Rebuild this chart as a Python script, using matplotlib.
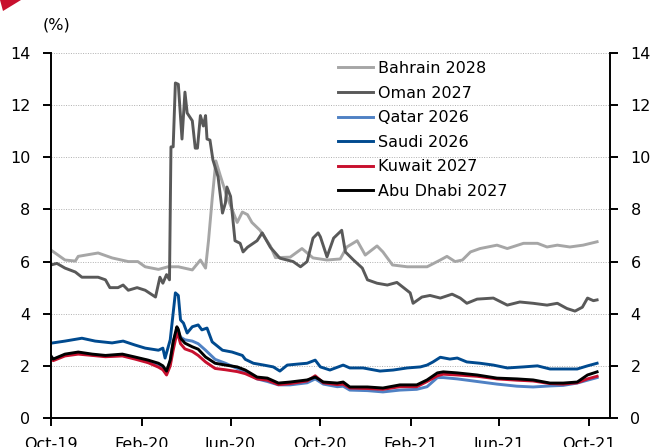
"""GCC sovereign bond yields, Oct-2019 to Oct-2021 (%)."""
import matplotlib
matplotlib.use("Agg")
import matplotlib.pyplot as plt
import matplotlib.dates as mdates
from matplotlib.patches import Polygon
import pandas as pd

bahrain_dates = [
    "2019-10-01", "2019-10-20", "2019-11-03", "2019-11-07", "2019-12-04",
    "2019-12-23", "2020-01-14", "2020-01-27", "2020-02-06", "2020-02-24",
    "2020-03-08", "2020-03-22", "2020-04-10", "2020-04-21", "2020-04-28",
    "2020-05-02", "2020-05-07", "2020-05-12", "2020-05-18", "2020-05-27",
    "2020-06-10", "2020-06-17", "2020-06-24", "2020-06-30", "2020-07-11",
    "2020-07-25", "2020-08-01", "2020-08-21", "2020-09-06", "2020-09-21",
    "2020-10-10", "2020-10-28", "2020-11-06", "2020-11-20", "2020-12-01",
    "2020-12-17", "2020-12-25", "2021-01-07", "2021-01-27", "2021-02-23",
    "2021-03-13", "2021-03-22", "2021-04-02", "2021-04-12", "2021-04-23",
    "2021-05-06", "2021-05-29", "2021-06-12", "2021-07-04", "2021-07-23",
    "2021-08-05", "2021-08-19", "2021-09-05", "2021-09-23", "2021-10-12",
]
bahrain_2028 = [
    6.44, 6.06, 6.02, 6.20, 6.33, 6.14, 6.00, 6.00, 5.80, 5.70,
    5.80, 5.80, 5.68, 6.06, 5.75, 6.80, 8.40, 9.86, 9.30, 8.50,
    7.50, 7.90, 7.80, 7.50, 7.20, 6.60, 6.15, 6.17, 6.50, 6.14,
    6.06, 6.10, 6.56, 6.80, 6.25, 6.60, 6.37, 5.87, 5.80, 5.80,
    6.06, 6.20, 6.00, 6.06, 6.37, 6.50, 6.63, 6.50, 6.70, 6.70,
    6.56, 6.63, 6.56, 6.63, 6.76,
]

oman_dates = [
    "2019-10-01", "2019-10-09", "2019-10-20", "2019-11-03", "2019-11-12",
    "2019-12-04", "2019-12-14", "2019-12-20", "2019-12-31", "2020-01-07",
    "2020-01-14", "2020-01-26", "2020-02-06", "2020-02-20", "2020-02-26",
    "2020-03-01", "2020-03-06", "2020-03-10", "2020-03-12", "2020-03-15",
    "2020-03-18", "2020-03-22", "2020-03-27", "2020-03-31", "2020-04-03",
    "2020-04-10", "2020-04-14", "2020-04-17", "2020-04-21", "2020-04-25",
    "2020-04-28", "2020-04-30", "2020-05-04", "2020-05-08", "2020-05-15",
    "2020-05-21", "2020-05-25", "2020-05-27", "2020-06-01", "2020-06-07",
    "2020-06-14", "2020-06-18", "2020-06-24", "2020-07-07", "2020-07-14",
    "2020-07-25", "2020-08-07", "2020-08-25", "2020-09-04", "2020-09-13",
    "2020-09-21", "2020-09-28", "2020-10-01", "2020-10-10", "2020-10-19",
    "2020-10-30", "2020-11-04", "2020-11-15", "2020-11-27", "2020-12-04",
    "2020-12-17", "2020-12-31", "2021-01-13", "2021-01-22", "2021-01-31",
    "2021-02-04", "2021-02-16", "2021-02-27", "2021-03-13", "2021-03-29",
    "2021-04-09", "2021-04-18", "2021-05-02", "2021-05-24", "2021-06-12",
    "2021-06-29", "2021-07-17", "2021-08-05", "2021-08-19", "2021-09-01",
    "2021-09-12", "2021-09-22", "2021-09-29", "2021-10-07", "2021-10-12",
]
oman_2027 = [
    5.87, 5.93, 5.75, 5.60, 5.40, 5.40, 5.30, 5.00, 5.00, 5.10,
    4.90, 5.00, 4.90, 4.64, 5.40, 5.17, 5.50, 5.30, 10.40, 10.40,
    12.85, 12.80, 10.70, 12.50, 11.70, 11.40, 10.35, 10.35, 11.60, 11.20,
    11.60, 10.70, 10.66, 9.90, 9.25, 7.86, 8.25, 8.86, 8.50, 6.80,
    6.70, 6.37, 6.55, 6.80, 7.10, 6.55, 6.13, 6.00, 5.80, 6.00,
    6.90, 7.10, 6.95, 6.18, 6.90, 7.20, 6.37, 6.06, 5.75, 5.30,
    5.17, 5.10, 5.20, 5.00, 4.80, 4.40, 4.64, 4.70, 4.60, 4.75,
    4.60, 4.40, 4.56, 4.60, 4.33, 4.45, 4.40, 4.33, 4.40, 4.20,
    4.10, 4.25, 4.60, 4.50, 4.53,
]

saudi_dates = [
    "2019-10-01", "2019-10-20", "2019-11-12", "2019-11-30", "2019-12-23",
    "2020-01-07", "2020-01-23", "2020-02-06", "2020-02-24", "2020-03-01",
    "2020-03-04", "2020-03-11", "2020-03-18", "2020-03-22", "2020-03-25",
    "2020-03-29", "2020-04-03", "2020-04-10", "2020-04-18", "2020-04-23",
    "2020-04-30", "2020-05-07", "2020-05-21", "2020-06-03", "2020-06-17",
    "2020-06-21", "2020-07-02", "2020-07-16", "2020-07-29", "2020-08-07",
    "2020-08-17", "2020-09-01", "2020-09-13", "2020-09-24", "2020-10-01",
    "2020-10-14", "2020-11-01", "2020-11-10", "2020-11-28", "2020-12-21",
    "2021-01-08", "2021-01-27", "2021-02-14", "2021-02-23", "2021-03-03",
    "2021-03-13", "2021-03-26", "2021-04-05", "2021-04-18", "2021-05-06",
    "2021-05-24", "2021-06-12", "2021-07-04", "2021-07-23", "2021-08-09",
    "2021-08-27", "2021-09-15", "2021-09-29", "2021-10-12",
]
saudi_2026 = [
    2.87, 2.95, 3.06, 2.95, 2.88, 2.95, 2.80, 2.68, 2.60, 2.68,
    2.30, 3.00, 4.80, 4.70, 3.76, 3.64, 3.26, 3.50, 3.57, 3.38,
    3.45, 2.92, 2.60, 2.53, 2.40, 2.25, 2.10, 2.03, 1.96, 1.80,
    2.03, 2.07, 2.10, 2.22, 1.96, 1.84, 2.03, 1.92, 1.92, 1.80,
    1.84, 1.92, 1.96, 2.03, 2.15, 2.33, 2.26, 2.30, 2.15, 2.10,
    2.03, 1.92, 1.96, 2.00, 1.88, 1.88, 1.88, 2.00, 2.10,
]

# Qatar, Kuwait and Abu Dhabi are read on the same dates
gcc_dates = [
    "2019-10-01", "2019-10-04", "2019-10-20", "2019-11-07", "2019-11-26",
    "2019-12-14", "2020-01-06", "2020-01-23", "2020-02-10", "2020-02-24",
    "2020-03-01", "2020-03-06", "2020-03-11", "2020-03-15", "2020-03-20",
    "2020-03-22", "2020-03-25", "2020-03-31", "2020-04-10", "2020-04-18",
    "2020-04-28", "2020-05-11", "2020-05-25", "2020-06-10", "2020-06-21",
    "2020-07-07", "2020-07-21", "2020-08-05", "2020-08-21", "2020-09-13",
    "2020-09-24", "2020-10-05", "2020-10-24", "2020-11-01", "2020-11-10",
    "2020-12-04", "2020-12-25", "2021-01-17", "2021-02-09", "2021-02-23",
    "2021-03-09", "2021-03-17", "2021-04-05", "2021-05-02", "2021-05-29",
    "2021-06-25", "2021-07-17", "2021-08-09", "2021-08-27", "2021-09-15",
    "2021-09-29", "2021-10-12",
]
qatar_2026 = [
    2.35, 2.25, 2.42, 2.50, 2.42, 2.38, 2.40, 2.30, 2.20, 2.05,
    1.95, 1.75, 2.20, 2.90, 3.40, 3.30, 3.10, 3.00, 2.95, 2.85,
    2.60, 2.25, 2.10, 1.90, 1.75, 1.50, 1.40, 1.27, 1.27, 1.35,
    1.50, 1.30, 1.20, 1.22, 1.07, 1.05, 1.00, 1.07, 1.10, 1.20,
    1.55, 1.55, 1.50, 1.40, 1.30, 1.22, 1.19, 1.23, 1.25, 1.34,
    1.45, 1.55,
]
kuwait_2027 = [
    2.30, 2.20, 2.38, 2.45, 2.40, 2.35, 2.38, 2.26, 2.12, 1.95,
    1.85, 1.65, 2.00, 2.60, 3.25, 3.15, 2.85, 2.65, 2.55, 2.40,
    2.15, 1.90, 1.85, 1.78, 1.70, 1.50, 1.45, 1.28, 1.32, 1.42,
    1.62, 1.35, 1.28, 1.30, 1.15, 1.13, 1.10, 1.20, 1.20, 1.40,
    1.62, 1.68, 1.65, 1.60, 1.50, 1.45, 1.42, 1.32, 1.30, 1.35,
    1.50, 1.60,
]
abu_dhabi_2027 = [
    2.38, 2.26, 2.45, 2.53, 2.45, 2.40, 2.45, 2.34, 2.22, 2.10,
    2.00, 1.80, 2.22, 2.92, 3.50, 3.40, 3.06, 2.87, 2.73, 2.64,
    2.34, 2.10, 2.03, 1.96, 1.84, 1.57, 1.53, 1.34, 1.38, 1.46,
    1.57, 1.38, 1.34, 1.38, 1.19, 1.19, 1.15, 1.27, 1.27, 1.46,
    1.73, 1.77, 1.73, 1.65, 1.53, 1.50, 1.46, 1.34, 1.34, 1.38,
    1.65, 1.77,
]

series = [
    ("Bahrain 2028", bahrain_dates, bahrain_2028, "#a6a6a6"),
    ("Oman 2027", oman_dates, oman_2027, "#595959"),
    ("Qatar 2026", gcc_dates, qatar_2026, "#4f81c4"),
    ("Saudi 2026", saudi_dates, saudi_2026, "#004a8f"),
    ("Kuwait 2027", gcc_dates, kuwait_2027, "#c8102e"),
    ("Abu Dhabi 2027", gcc_dates, abu_dhabi_2027, "#000000"),
]

plt.rcParams.update({"font.family": "DejaVu Sans", "font.size": 11.5})

W, H = 652, 447
fig = plt.figure(figsize=(W / 100, H / 100), dpi=100)
ax = fig.add_axes([51 / W, 29 / H, 558.6 / W, 365 / H])

for label, dates, values, color in series:
    ax.plot(pd.to_datetime(dates), values, color=color, lw=2.1,
            label=label, solid_joinstyle="round")

ax.set_ylim(0, 14)
ax.set_yticks(range(0, 15, 2))
ax.set_xlim(pd.Timestamp("2019-10-01"), pd.Timestamp("2021-10-29"))
ax.xaxis.set_major_locator(mdates.MonthLocator(bymonth=[2, 6, 10]))
ax.xaxis.set_major_formatter(mdates.DateFormatter("%b-%y"))

for y in range(2, 15, 2):
    ax.axhline(y, color="#b0b0b0", lw=0.7, ls=(0, (1, 1.5)), zorder=0)

for side in ("left", "right", "bottom"):
    ax.spines[side].set_linewidth(1.4)
ax.spines["top"].set_visible(False)
ax.tick_params(axis="y", which="both", direction="out", length=6,
               width=1.4, pad=9, left=True, right=True,
               labelleft=True, labelright=True)
ax.tick_params(axis="x", direction="out", length=6, width=1.4, pad=8)

fig.text(56 / W, 1 - 25 / H, "(%)", ha="center", va="center", fontsize=11.5)

# red corner mark
fig.add_artist(Polygon([(0, 1), (21 / W, 1), (3 / W, 1 - 11 / H)],
                       closed=True, transform=fig.transFigure,
                       color="#c8102e", lw=0))

ax.legend(loc="upper left", bbox_to_anchor=(338 / W, 1 - 61 / H),
          bbox_transform=fig.transFigure, frameon=False, borderpad=0,
          borderaxespad=0, handlelength=2.2, handletextpad=0.3,
          labelspacing=0.6, fontsize=11.5)

fig.savefig("out.png", dpi=100)
